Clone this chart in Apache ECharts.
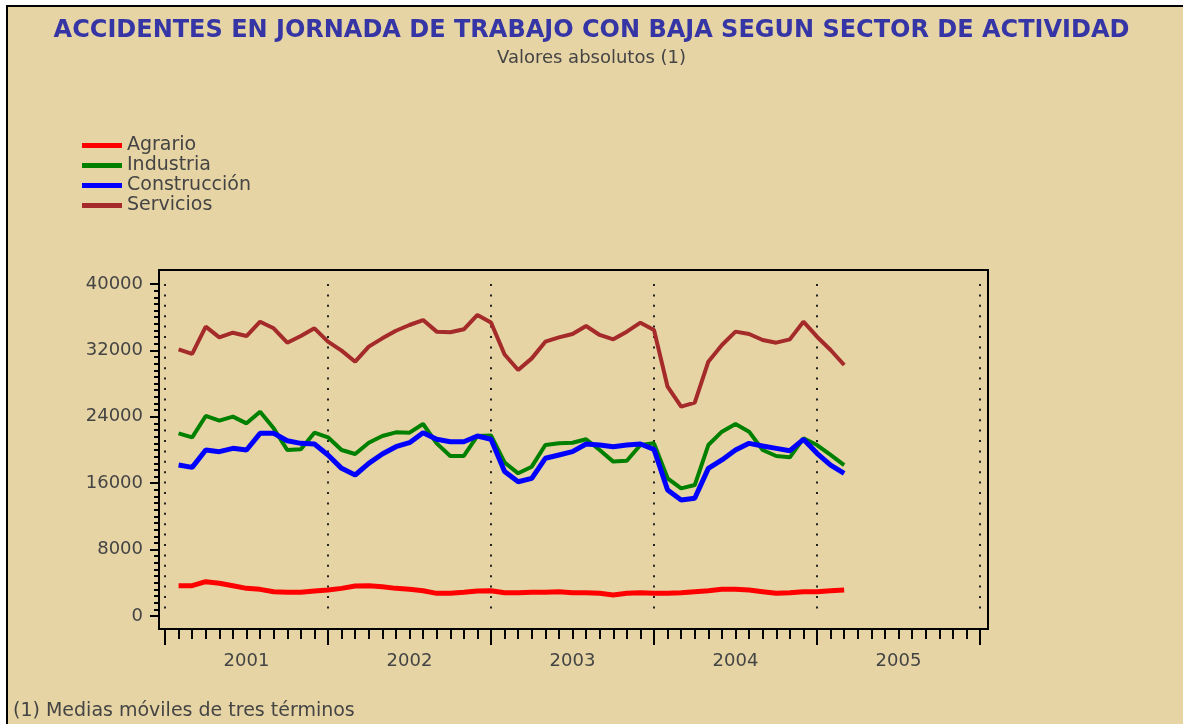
<!DOCTYPE html>
<html>
<head>
<meta charset="utf-8">
<title>Accidentes en jornada de trabajo con baja</title>
<script src="https://cdn.jsdelivr.net/npm/echarts@6/dist/echarts.min.js"></script>
<style>
  html, body { margin: 0; padding: 0; background: #fff; }
  /* marco del grafico: fondo beige con borde negro arriba e izquierda */
  .frame { position: absolute; left: 6px; top: 5px; right: 0; bottom: 0; background: #e6d4a4; border-left: 2px solid #000; border-top: 2px solid #000; }
  #chart { position: absolute; left: 0; top: 0; width: 1183px; height: 724px; }
</style>
</head>
<body>
<div class="frame"></div>
<div id="chart"></div>
<script>
// etiquetas del eje x (un año cada 12 meses, mes 0 = enero 2001)
const years = ['2001', '2002', '2003', '2004', '2005'];
const firstMonth = 1; // primer dato: febrero 2001 (medias moviles)

// medias moviles de tres terminos, feb 2001 - mar 2005
const agrario = [3650, 3650, 4130, 3940, 3650, 3330, 3210, 2930, 2850, 2850,
  3010, 3130, 3330, 3610, 3650, 3530, 3330, 3210, 3050, 2730,
  2730, 2850, 3010, 3050, 2810, 2810, 2850, 2850, 2930, 2810,
  2810, 2730, 2530, 2730, 2810, 2730, 2730, 2810, 2930, 3050,
  3210, 3210, 3130, 2930, 2730, 2810, 2930, 2930, 3050, 3130];
const industria = [22010, 21530, 24100, 23530, 24020, 23210, 24620, 22610, 20000, 20080,
  22090, 21530, 20000, 19520, 20880, 21690, 22130, 22090, 23130, 20800,
  19280, 19280, 21690, 21750, 18500, 17190, 17990, 20600, 20800, 20880,
  21290, 20000, 18600, 18710, 20600, 20800, 16590, 15380, 15780, 20600,
  22210, 23130, 22210, 20000, 19280, 19120, 21410, 20600, 19400, 18190];
const construccion = [18190, 17910, 20000, 19800, 20200, 20000, 22010, 22010, 21120, 20800,
  20720, 19400, 17790, 16990, 18390, 19520, 20400, 20880, 22090, 21290,
  21000, 21000, 21690, 21290, 17400, 16180, 16590, 19000, 19400, 19800,
  20720, 20600, 20400, 20600, 20720, 20080, 15180, 13980, 14180, 17790,
  18800, 20000, 20800, 20480, 20200, 19920, 21290, 19600, 18190, 17190];
const servicios = [32130, 31570, 34860, 33570, 34130, 33730, 35460, 34660, 32930, 33730,
  34660, 33050, 31970, 30640, 32450, 33450, 34370, 35060, 35660, 34260,
  34180, 34540, 36270, 35360, 31500, 29640, 31040, 33050, 33570, 33980,
  34940, 33860, 33330, 34260, 35340, 34460, 27630, 25220, 25700, 30640,
  32650, 34260, 33980, 33250, 32930, 33330, 35460, 33650, 32050, 30240];

const font = 'DejaVu Sans';
const toPoints = arr => arr.map((v, i) => [firstMonth + i, v]);

const chart = echarts.init(document.getElementById('chart'));
const option = {
  animation: false,
  textStyle: { fontFamily: font },
  title: [
    {
      text: 'ACCIDENTES EN JORNADA DE TRABAJO CON BAJA SEGUN SECTOR DE ACTIVIDAD',
      subtext: 'Valores absolutos (1)',
      left: 'center',
      top: 19,
      padding: [0, 0, 0, 11],
      itemGap: 6,
      textStyle: { fontFamily: font, fontSize: 24, fontWeight: 'bold', color: '#3535a5' },
      subtextStyle: { fontFamily: font, fontSize: 18, color: '#444' }
    },
    {
      text: '(1) Medias móviles de tres términos',
      left: 13,
      top: 702,
      padding: 0,
      textStyle: { fontFamily: font, fontSize: 19, fontWeight: 'normal', color: '#444' }
    }
  ],
  legend: {
    orient: 'vertical',
    left: 82,
    top: 136,
    padding: 0,
    itemGap: 1,
    icon: 'rect',
    itemWidth: 40,
    itemHeight: 5,
    textStyle: { fontFamily: font, fontSize: 19, color: '#444', lineHeight: 19 },
    data: ['Agrario', 'Industria', 'Construcción', 'Servicios']
  },
  grid: [
    // area de datos
    { left: 165, right: 203, top: 284, bottom: 108 },
    // recuadro negro alrededor del grafico
    { left: 159, right: 195, top: 270, bottom: 95, show: true, borderColor: '#000', borderWidth: 2, backgroundColor: 'transparent' }
  ],
  xAxis: {
    type: 'value',
    gridIndex: 0,
    min: 0,
    max: 60,
    interval: 12,
    offset: 13,
    axisLine: { show: true, onZero: false, lineStyle: { color: '#000', width: 2 } },
    axisTick: { show: true, inside: false, length: 16, lineStyle: { color: '#000', width: 2 } },
    minorTick: { show: true, splitNumber: 12, length: 10, lineStyle: { color: '#000', width: 2 } },
    splitLine: { show: true, lineStyle: { color: '#222', width: 2, type: [2, 8.4] } },
    minorSplitLine: { show: false },
    axisLabel: {
      customValues: years.map((y, i) => i * 12 + 6),
      formatter: v => years[Math.round((v - 6) / 12)],
      margin: 23,
      color: '#444',
      fontFamily: font,
      fontSize: 18
    }
  },
  yAxis: {
    type: 'value',
    gridIndex: 0,
    min: 0,
    max: 40000,
    interval: 8000,
    offset: 6,
    axisLine: { show: true, onZero: false, lineStyle: { color: '#000', width: 2 } },
    axisTick: { show: true, inside: false, length: 9, lineStyle: { color: '#000', width: 2 } },
    minorTick: { show: true, splitNumber: 10, length: 5, lineStyle: { color: '#000', width: 2 } },
    splitLine: { show: false },
    axisLabel: { margin: 16, color: '#444', fontFamily: font, fontSize: 18, formatter: v => String(v) }
  },
  series: [
    { name: 'Agrario', type: 'line', data: toPoints(agrario), color: '#ff0000', showSymbol: false, lineStyle: { width: 5 } },
    { name: 'Industria', type: 'line', data: toPoints(industria), color: '#008000', showSymbol: false, lineStyle: { width: 4 } },
    { name: 'Construcción', type: 'line', data: toPoints(construccion), color: '#0000ff', showSymbol: false, lineStyle: { width: 5 } },
    { name: 'Servicios', type: 'line', data: toPoints(servicios), color: '#a52a2a', showSymbol: false, lineStyle: { width: 4 } }
  ]
};
chart.setOption(option);
</script>
</body>
</html>
